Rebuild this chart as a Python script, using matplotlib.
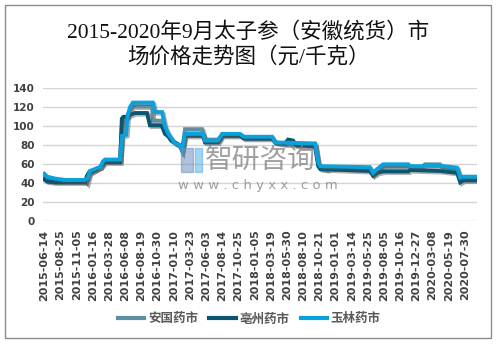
import matplotlib.pyplot as plt
import matplotlib.patheffects as pe
from matplotlib.patches import Rectangle

plt.rcParams['font.family'] = ['Noto Sans CJK SC', 'DejaVu Sans']

# x = category index of the price record, one tick label every 72 records
tick_labels = ["2015-06-14", "2015-08-25", "2015-11-05", "2016-01-16", "2016-03-28",
               "2016-06-08", "2016-08-19", "2016-10-30", "2017-01-10", "2017-03-23",
               "2017-06-03", "2017-08-14", "2017-10-25", "2018-01-05", "2018-03-19",
               "2018-05-30", "2018-08-10", "2018-10-21", "2019-01-01", "2019-03-14",
               "2019-05-25", "2019-08-05", "2019-10-16", "2019-12-27", "2020-03-08",
               "2020-05-19", "2020-07-30"]
tick_step = 72

anguo_x = [0, 12, 48, 181, 190, 200, 230, 250, 261, 270, 337, 345, 368, 381, 394, 479, 483,
           524, 537, 550, 564, 582, 604, 613, 626, 702, 715, 773, 791, 871, 889, 1014, 1027,
           1071, 1205, 1219, 1228, 1258, 1271, 1449, 1463, 1481, 1508, 1620, 1628, 1681,
           1694, 1761, 1770, 1837, 1851, 1864, 1922]
anguo_y = [46, 43, 42, 42, 40, 50, 55, 57, 62, 64, 64, 100, 110, 118, 121, 121, 106,
           106, 97, 91, 86, 82, 79, 74, 97, 97, 86, 86, 91, 91, 88, 88, 83,
           81, 80, 60, 56, 54, 56, 55, 49, 53, 57.5, 57.5, 57, 57,
           60, 60, 57, 55, 44, 45, 45]

bozhou_x = [0, 12, 48, 181, 190, 200, 230, 250, 261, 270, 337, 345, 352, 368, 381, 403, 457,
            470, 515, 524, 537, 550, 564, 582, 604, 613, 626, 706, 715, 773, 791, 871, 889,
            1014, 1027, 1071, 1085, 1107, 1120, 1205, 1219, 1228, 1449, 1463, 1481, 1508,
            1620, 1628, 1761, 1837, 1851, 1864, 1922]
bozhou_y = [44, 42, 41, 41, 48, 52, 54, 57.5, 60, 62, 62, 108, 110, 110, 112, 114, 114,
            101, 101, 100, 92, 90, 85, 83, 80, 75, 90, 90, 83, 83, 90, 90, 87,
            87, 83, 82, 86, 85, 80, 79, 58, 55, 53, 48, 51, 52.5,
            52.5, 54, 53, 51, 41, 43, 43]

yulin_x = [0, 12, 48, 92, 181, 194, 203, 235, 250, 261, 270, 337, 346, 364, 370, 381, 394,
           483, 492, 524, 537, 550, 564, 582, 604, 613, 626, 706, 715, 773, 791, 871, 889,
           1014, 1027, 1205, 1219, 1228, 1449, 1463, 1481, 1508, 1620, 1628, 1681, 1694,
           1761, 1837, 1851, 1864, 1922]
yulin_y = [50, 47, 45, 43.5, 43.5, 46, 53, 56, 57, 63, 65, 65, 90, 91, 110, 120, 125,
           125, 115, 115, 100, 93, 88, 82, 80, 75, 92, 92, 85, 85, 92, 92, 89,
           89, 83, 82, 62, 58, 57, 51, 55, 60, 60, 58, 58, 59,
           58.5, 56.5, 46, 47, 47]

series = [
    ("安国药市", anguo_x, anguo_y, "#5e8fa2"),
    ("亳州药市", bozhou_x, bozhou_y, "#0a5671"),
    ("玉林药市", yulin_x, yulin_y, "#0aa2dc"),
]

fig = plt.figure(figsize=(4.96, 3.44), dpi=100)
ax = fig.add_axes([0.0873, 0.3567, 0.8737, 0.3866])

shadow = [pe.SimpleLineShadow(offset=(1.2, -1.2), shadow_color="#555555", alpha=0.45), pe.Normal()]
for name, xs, ys, color in series:
    ax.plot(xs, ys, color=color, lw=2.8, label=name, solid_joinstyle="miter",
            path_effects=shadow)

ax.set_xlim(-4.5, 1924)
ax.set_ylim(0, 140)
ax.set_yticks(range(0, 141, 20))
ax.set_xticks([i * tick_step for i in range(len(tick_labels))])
ax.set_xticklabels(tick_labels, rotation=90, fontsize=8, fontweight="bold",
                   color="#404040", family="DejaVu Sans")
for lab in ax.get_yticklabels():
    lab.set_fontsize(7.5)
    lab.set_fontweight("bold")
    lab.set_color("#404040")
    lab.set_family("DejaVu Sans")
ax.tick_params(length=0, pad=6)
ax.grid(axis="y", color="#d4d4d4", lw=1)
ax.set_axisbelow(True)
for s in ax.spines.values():
    s.set_visible(False)

# title
fig.text(0.5, 0.870, "2015-2020年9月太子参（安徽统货）市\n场价格走势图（元/千克）",
         ha="center", va="center", fontsize=15.5, linespacing=1.3, color="#111111",
         family=["Liberation Serif", "Noto Sans CJK SC"])

# watermark
fig.text(0.414, 0.535, "智研咨询", fontsize=20, color="#808080", alpha=0.75,
         ha="left", va="center")
fig.text(0.359, 0.462, "w w w . c h y x x . c o m", fontsize=9.5, color="#808080",
         alpha=0.75, ha="left", va="center", family="DejaVu Sans")
fig.patches.append(Rectangle((0.365, 0.50), 0.025, 0.07, transform=fig.transFigure,
                             color="#6f8fc0", alpha=0.55))
fig.patches.append(Rectangle((0.393, 0.50), 0.014, 0.07, transform=fig.transFigure,
                             color="#56b4e6", alpha=0.55))

leg = fig.legend(loc="center", bbox_to_anchor=(0.503, 0.073), ncol=3, frameon=False,
                 fontsize=9, handlelength=2.1, columnspacing=0.9, handletextpad=0.3)
for t in leg.get_texts():
    t.set_color("#595959")
    t.set_fontweight("bold")
for h in leg.legend_handles:
    h.set_linewidth(3)
    h.set_path_effects([])

# outer border
fig.patches.append(Rectangle((0.01, 0.017), 0.98, 0.968, transform=fig.transFigure,
                             fill=False, edgecolor="#8c8c8c", lw=1))

fig.savefig("out.png", dpi=100)
